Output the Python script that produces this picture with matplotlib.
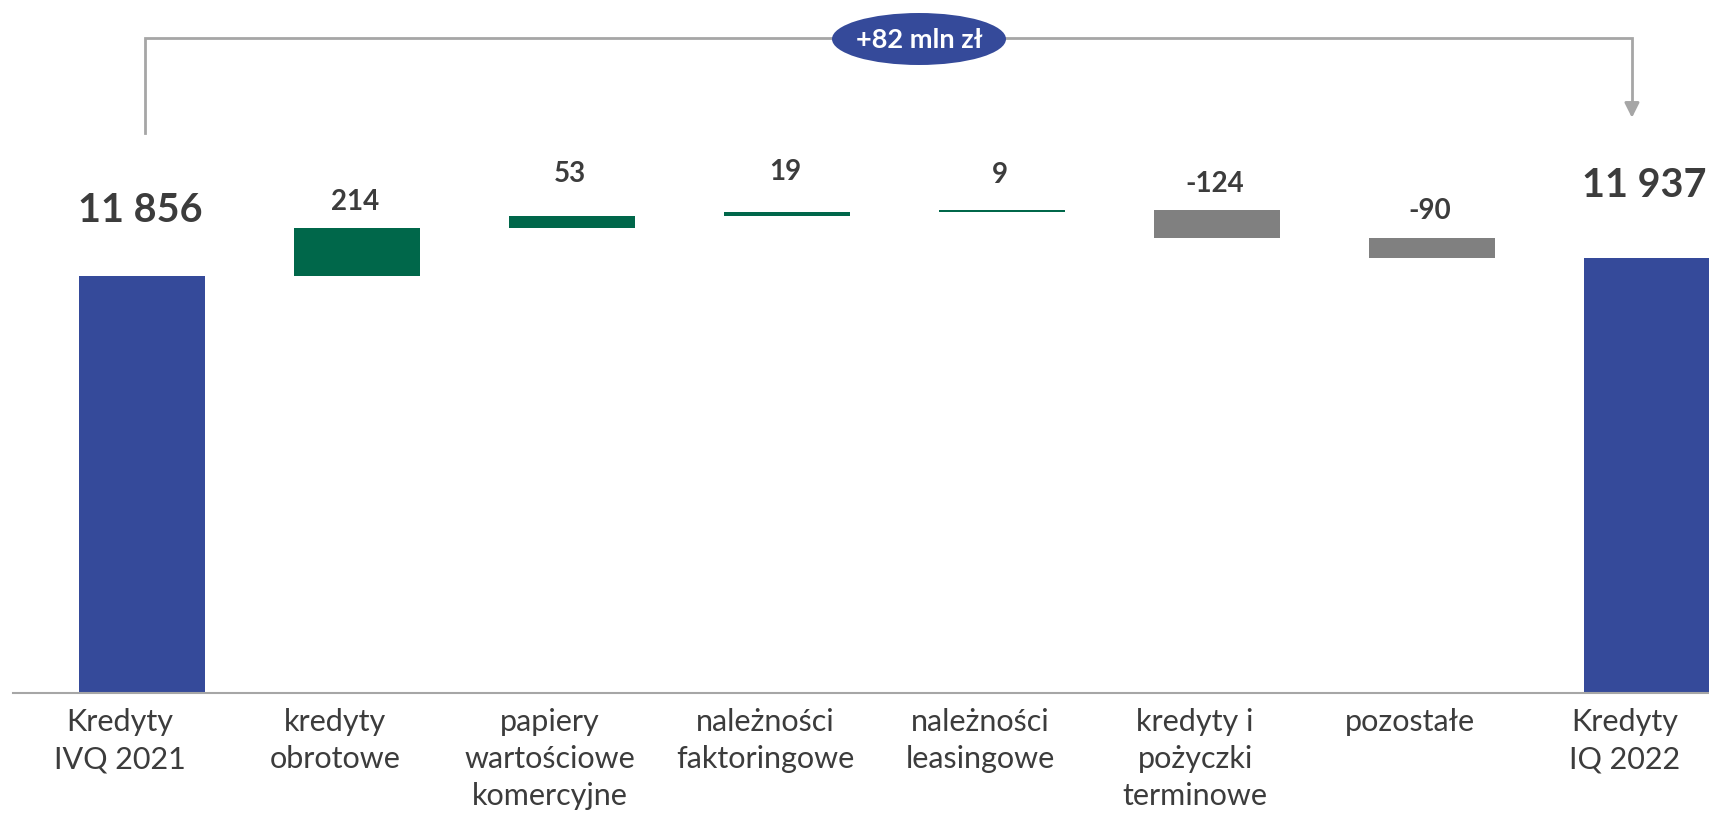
import numpy as np
import matplotlib.pyplot as plt
from matplotlib.patches import Ellipse

plt.rcParams['font.family'] = ['Lato', 'DejaVu Sans']

# data
categories = ['Kredyty\nIVQ 2021', 'kredyty\nobrotowe', 'papiery\nwartościowe\nkomercyjne',
              'należności\nfaktoringowe', 'należności\nleasingowe', 'kredyty i\npożyczki\nterminowe',
              'pozostałe', 'Kredyty\nIQ 2022']
start_total = 11856
deltas = [214, 53, 19, 9, -124, -90]
end_total = 11937
value_labels = ['11 856', '214', '53', '19', '9', '-124', '-90', '11 937']
change_label = '+82 mln zł'

BLUE = '#354A9A'
GREEN = '#00674A'
GREY = '#808080'
TEXT = '#3C3C3C'
LINE = '#A6A6A6'
y_min = 10000

fig = plt.figure(figsize=(17.09, 8.13), dpi=100)
ax = fig.add_axes([13 / 1709, 120 / 813, 1 - 13 / 1709, 693 / 813])

# waterfall geometry
bottoms, heights, colors = [], [], []
bottoms.append(y_min); heights.append(start_total - y_min); colors.append(BLUE)
cum = start_total
for d in deltas:
    bottoms.append(min(cum, cum + d))
    heights.append(abs(d))
    colors.append(GREEN if d > 0 else GREY)
    cum += d
bottoms.append(y_min); heights.append(end_total - y_min); colors.append(BLUE)

x = np.arange(len(categories))
ax.bar(x, heights, bottom=bottoms, width=0.585, color=colors, linewidth=0)

# value labels (gap above bar top, px)
gaps = [54, 18, 34, 32, 27, 18, 19, 61]
tops = [b + h for b, h in zip(bottoms, heights)]
for i, (lab, t, g) in enumerate(zip(value_labels, tops, gaps)):
    big = i in (0, len(categories) - 1)
    ax.annotate(lab, xy=(i, t), xytext=(-3 if i == len(categories) - 1 else -2, g),
                textcoords='offset pixels',
                ha='center', va='baseline', color=TEXT, fontweight='bold',
                fontsize=28.5 if big else 20)

# category labels
for i, lab in enumerate(categories):
    ax.annotate(lab, xy=(i, y_min), xytext=(-22, -15), textcoords='offset pixels',
                ha='center', va='top', color=TEXT, fontweight='normal',
                fontsize=22, linespacing=1.4)

ax.set_xlim(-0.6, -0.6 + 1696 / 215)
ax.set_ylim(y_min, y_min + 693 / 0.2247)
for s in ['top', 'right', 'left']:
    ax.spines[s].set_visible(False)
ax.spines['bottom'].set_color(LINE)
ax.spines['bottom'].set_linewidth(1.5)
ax.set_xticks([])
ax.set_yticks([])

# bracket with arrow
bracket_y = 12915
ax.plot([0.015, 0.015, 6.93, 6.93], [12492, bracket_y, bracket_y, 12620],
        color=LINE, linewidth=2, solid_joinstyle='miter', clip_on=False)
ax.annotate('', xy=(6.93, 12560), xytext=(6.93, 12630),
            arrowprops=dict(arrowstyle='-|>', color=LINE, lw=2,
                            mutation_scale=22, shrinkA=0, shrinkB=0))

# bubble
ell = Ellipse((919 / 1709, 1 - 39 / 813), 174 / 1709, 52 / 813,
              transform=fig.transFigure, facecolor=BLUE, edgecolor='none', zorder=5)
fig.add_artist(ell)
fig.text(919 / 1709, 1 - 40 / 813, change_label, ha='center', va='center',
         color='white', fontweight='bold', fontsize=19.5, zorder=6)

plt.savefig('out.png', dpi=100)
